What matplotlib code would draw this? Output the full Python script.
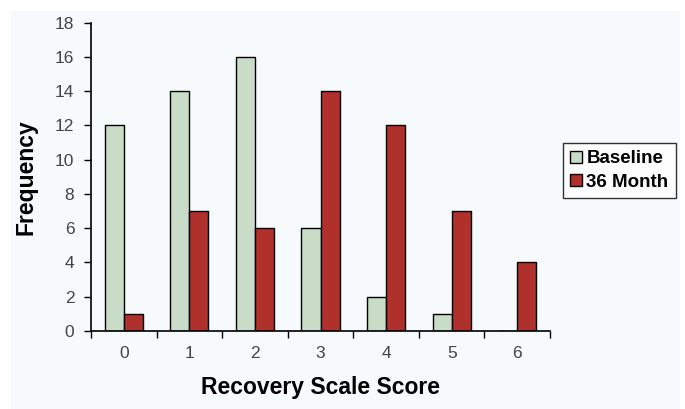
import numpy as np
import matplotlib.pyplot as plt
from matplotlib.patches import Rectangle

plt.rcParams['font.family'] = ['Liberation Sans', 'DejaVu Sans']

scores = [0, 1, 2, 3, 4, 5, 6]
baseline = [12, 14, 16, 6, 2, 1, 0]
month36 = [1, 7, 6, 14, 12, 7, 4]

fig = plt.figure(figsize=(6.85, 4.09), dpi=100)
fig.patch.set_facecolor('white')
# light tinted panel behind the chart
fig.patches.append(Rectangle((11 / 685, 0), 669 / 685, 398 / 409,
                             transform=fig.transFigure, facecolor='#f6fafc',
                             edgecolor='none', zorder=-5))

ax = fig.add_axes([0.1328, 0.1907, 0.6702, 0.7538])
ax.set_facecolor('none')

x = np.arange(len(scores))
w = 0.29
ax.bar(x - w / 2, baseline, w, color='#c8dcc8', edgecolor='black', linewidth=1, label='Baseline')
ax.bar(x + w / 2, month36, w, color='#b0302c', edgecolor='black', linewidth=1, label='36 Month')

ax.set_xlim(-0.5, 6.5)
ax.set_ylim(0, 18)
ax.set_yticks(range(0, 19, 2))
ax.set_xticks(x)
ax.set_xticklabels([str(s) for s in scores])
ax.set_xticks(np.arange(-0.5, 7, 1), minor=True)
ax.tick_params(axis='x', which='major', length=0, pad=11, labelsize=12.5, labelcolor='#444444')
ax.tick_params(axis='x', which='minor', length=5, width=1, direction='out')
ax.tick_params(axis='y', length=5, width=1, direction='out', labelsize=12.5, labelcolor='#444444', pad=7)

for s in ['top', 'right']:
    ax.spines[s].set_visible(False)
for s in ['left', 'bottom']:
    ax.spines[s].set_linewidth(1.2)

ax.set_xlabel('Recovery Scale Score', fontsize=16.5, fontweight='bold')
ax.set_ylabel('Frequency', fontsize=16.5, fontweight='bold')
ax.xaxis.set_label_coords(0.5, -45 / 308.3)
ax.yaxis.set_label_coords(-53 / 459.1, 0.5)

leg = ax.legend(loc='center left', bbox_to_anchor=(1.028, 0.52), frameon=True, fancybox=False,
                edgecolor='black', fontsize=13.5, handlelength=0.6, handleheight=0.6,
                handletextpad=0.25, borderpad=0.4, labelspacing=0.35, borderaxespad=0)
leg.get_frame().set_linewidth(1)
leg.get_frame().set_facecolor('white')
for t in leg.get_texts():
    t.set_fontweight('bold')

fig.savefig('out.png', dpi=100)
